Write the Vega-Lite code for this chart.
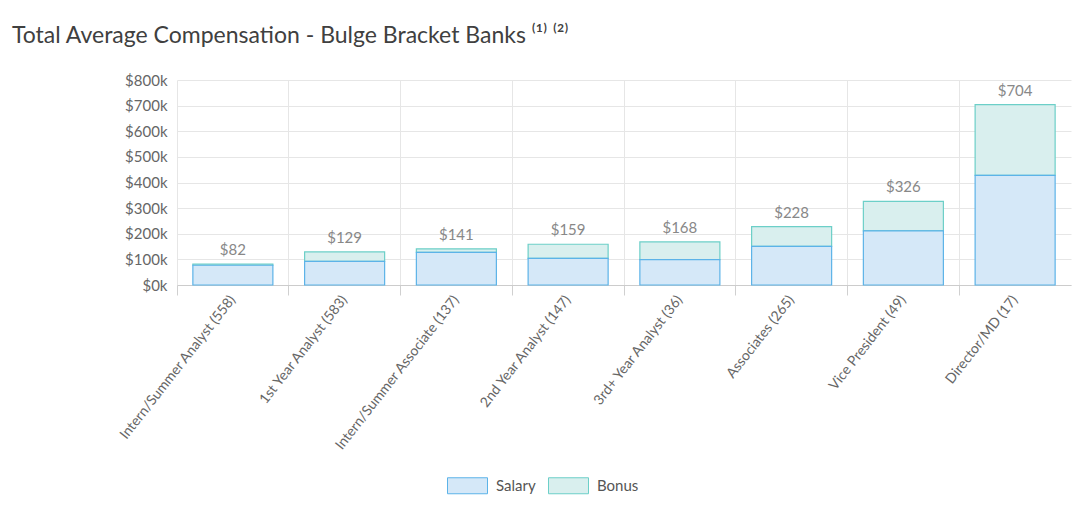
{
  "$schema": "https://vega.github.io/schema/vega-lite/v6.json",
  "autosize": "none",
  "width": 894,
  "height": 205,
  "padding": {"left": 177, "top": 80, "right": 9, "bottom": 227},
  "title": {
    "text": "Total Average Compensation - Bulge Bracket Banks ⁽¹⁾ ⁽²⁾",
    "anchor": "start",
    "frame": "group",
    "dx": -165,
    "offset": 25,
    "font": "Lato",
    "fontSize": 23,
    "fontWeight": "normal",
    "color": "#404040"
  },
  "datasets": {
    "comp": [
      {"category": "Intern/Summer Analyst (558)", "component": "Bonus", "ord": 2, "value": 5},
      {"category": "1st Year Analyst (583)", "component": "Bonus", "ord": 2, "value": 37},
      {"category": "Intern/Summer Associate (137)", "component": "Bonus", "ord": 2, "value": 14},
      {"category": "2nd Year Analyst (147)", "component": "Bonus", "ord": 2, "value": 55},
      {"category": "3rd+ Year Analyst (36)", "component": "Bonus", "ord": 2, "value": 69},
      {"category": "Associates (265)", "component": "Bonus", "ord": 2, "value": 77},
      {"category": "Vice President (49)", "component": "Bonus", "ord": 2, "value": 115},
      {"category": "Director/MD (17)", "component": "Bonus", "ord": 2, "value": 276},
      {"category": "Intern/Summer Analyst (558)", "component": "Salary", "ord": 1, "value": 77},
      {"category": "1st Year Analyst (583)", "component": "Salary", "ord": 1, "value": 92},
      {"category": "Intern/Summer Associate (137)", "component": "Salary", "ord": 1, "value": 127},
      {"category": "2nd Year Analyst (147)", "component": "Salary", "ord": 1, "value": 104},
      {"category": "3rd+ Year Analyst (36)", "component": "Salary", "ord": 1, "value": 99},
      {"category": "Associates (265)", "component": "Salary", "ord": 1, "value": 151},
      {"category": "Vice President (49)", "component": "Salary", "ord": 1, "value": 211},
      {"category": "Director/MD (17)", "component": "Salary", "ord": 1, "value": 428}
    ],
    "totals": [
      {"category": "Intern/Summer Analyst (558)", "total": 82},
      {"category": "1st Year Analyst (583)", "total": 129},
      {"category": "Intern/Summer Associate (137)", "total": 141},
      {"category": "2nd Year Analyst (147)", "total": 159},
      {"category": "3rd+ Year Analyst (36)", "total": 168},
      {"category": "Associates (265)", "total": 228},
      {"category": "Vice President (49)", "total": 326},
      {"category": "Director/MD (17)", "total": 704}
    ]
  },
  "encoding": {
    "x": {
      "field": "category",
      "type": "nominal",
      "sort": ["Intern/Summer Analyst (558)", "1st Year Analyst (583)", "Intern/Summer Associate (137)", "2nd Year Analyst (147)", "3rd+ Year Analyst (36)", "Associates (265)", "Vice President (49)", "Director/MD (17)"],
      "scale": {"paddingInner": 0, "paddingOuter": 0},
      "axis": {
        "title": null,
        "bandPosition": 0,
        "labelAngle": -52,
        "labelAlign": "right",
        "labelBaseline": "middle",
        "labelPadding": 2,
        "labelLimit": 400,
        "labelFont": "Lato",
        "labelFontSize": 14,
        "labelColor": "#666666",
        "tickSize": 10,
        "tickColor": "#d0d0d0",
        "domainColor": "#cccccc",
        "grid": true,
        "gridColor": "#e6e6e6"
      }
    }
  },
  "layer": [
    {
      "data": {"name": "comp"},
      "mark": {"type": "bar", "width": {"band": 0.716}, "strokeWidth": 1.2},
      "encoding": {
        "y": {
          "field": "value",
          "type": "quantitative",
          "stack": "zero",
          "scale": {"domain": [0, 800]},
          "axis": {
            "title": null,
            "values": [0, 100, 200, 300, 400, 500, 600, 700, 800],
            "labelExpr": "'$' + datum.value + 'k'",
            "labelOverlap": false,
            "labelFont": "Lato",
            "labelFontSize": 15,
            "labelColor": "#666666",
            "labelPadding": 10,
            "ticks": false,
            "domain": false,
            "grid": true,
            "gridColor": "#e6e6e6"
          }
        },
        "order": {"field": "ord", "type": "quantitative"},
        "fill": {
          "field": "component",
          "type": "nominal",
          "scale": {"domain": ["Salary", "Bonus"], "range": ["#d5e8f8", "#d9efee"]},
          "legend": {
            "title": null,
            "orient": "none",
            "direction": "horizontal",
            "legendX": 270,
            "legendY": 385,
            "symbolType": "M-1,-0.4H1V0.4H-1Z",
            "symbolSize": 1600,
            "symbolStrokeColor": "#999999",
            "symbolStrokeWidth": 1,
            "labelFont": "Lato",
            "labelFontSize": 15,
            "labelColor": "#555555",
            "labelOffset": 8,
            "columnPadding": 10,
            "encode": {"symbols": {"update": {"stroke": {"value": "#999999"}, "strokeWidth": {"value": 1}}}}
          }
        },
        "stroke": {
          "field": "component",
          "type": "nominal",
          "scale": {"domain": ["Salary", "Bonus"], "range": ["#5cb3e8", "#6ccfc8"]},
          "legend": null
        }
      }
    },
    {
      "data": {"name": "totals"},
      "mark": {"type": "text", "baseline": "bottom", "dy": -6, "font": "Lato", "fontSize": 15, "color": "#888888"},
      "encoding": {
        "y": {
          "field": "total",
          "type": "quantitative",
          "axis": {
            "title": null,
            "values": [0, 100, 200, 300, 400, 500, 600, 700, 800],
            "labelExpr": "'$' + datum.value + 'k'",
            "labelOverlap": false,
            "labelFont": "Lato",
            "labelFontSize": 15,
            "labelColor": "#666666",
            "labelPadding": 10,
            "ticks": false,
            "domain": false,
            "grid": true,
            "gridColor": "#e6e6e6"
          }
        },
        "text": {"field": "total", "type": "quantitative", "format": "$.0f"}
      }
    }
  ],
  "config": {
    "view": {"stroke": null}
  }
}
